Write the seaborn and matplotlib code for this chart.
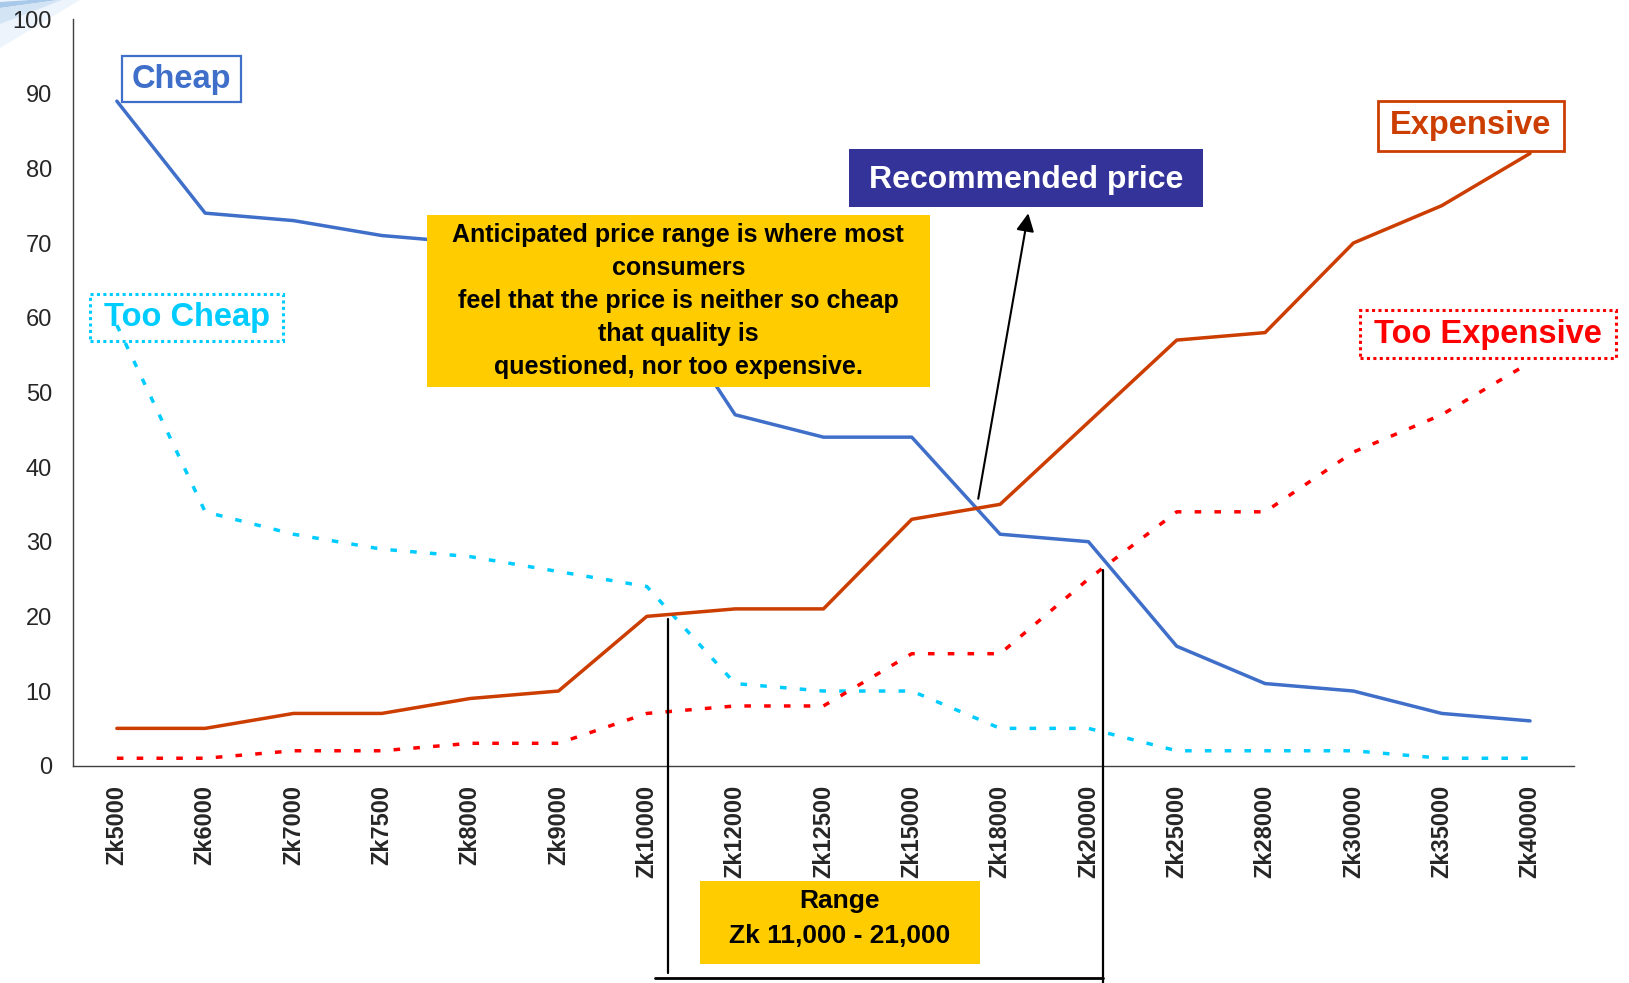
import numpy as np
import pandas as pd
import matplotlib
matplotlib.use("Agg")
import matplotlib.pyplot as plt
from matplotlib.patches import Rectangle, Polygon
from matplotlib.lines import Line2D
import seaborn as sns

# ---- survey data (share of respondents, %) ----
categories = ["Zk5000", "Zk6000", "Zk7000", "Zk7500", "Zk8000", "Zk9000", "Zk10000",
              "Zk12000", "Zk12500", "Zk15000", "Zk18000", "Zk20000", "Zk25000",
              "Zk28000", "Zk30000", "Zk35000", "Zk40000"]
cheap = [89, 74, 73, 71, 70, 68, 65, 47, 44, 44, 31, 30, 16, 11, 10, 7, 6]
too_cheap = [59, 34, 31, 29, 28, 26, 24, 11, 10, 10, 5, 5, 2, 2, 2, 1, 1]
expensive = [5, 5, 7, 7, 9, 10, 20, 21, 21, 33, 35, 46, 57, 58, 70, 75, 82]
too_expensive = [1, 1, 2, 2, 3, 3, 7, 8, 8, 15, 15, 25, 34, 34, 42, 47, 54]
y_ticks = [0, 10, 20, 30, 40, 50, 60, 70, 80, 90, 100]

series_names = ["Cheap", "Too Cheap", "Expensive", "Too Expensive"]
note_text = ("Anticipated price range is where most\nconsumers\n"
             "feel that the price is neither so cheap\nthat quality is\n"
             "questioned, nor too expensive.")
range_text = "Range\nZk 11,000 - 21,000"
recommended_text = "Recommended price"

# range bounds as marked on the axis (category position, share %)
range_low = (6.24, 19.6)
range_high = (11.17, 26.2)

colors = {"Cheap": "#3F6FC9", "Too Cheap": "#00CCFF",
          "Expensive": "#CC3D00", "Too Expensive": "#FF0000"}
dashes = {"Cheap": "", "Too Cheap": (1.9, 3.8),
          "Expensive": "", "Too Expensive": (1.9, 3.8)}

pos = np.arange(len(categories))
df = pd.concat([
    pd.DataFrame({"pos": pos, "price": categories, "share": vals, "series": name})
    for name, vals in zip(series_names, [cheap, too_cheap, expensive, too_expensive])
], ignore_index=True)

sns.set_style("white")
plt.rcParams["font.family"] = ["Liberation Sans", "DejaVu Sans"]

W, H = 1629, 983
fig = plt.figure(figsize=(W / 100, H / 100), dpi=100)
ax = fig.add_axes([72.7 / W, 1 - 765.7 / H, (1574.2 - 72.7) / W, (765.7 - 19) / H])


def fx(px):
    return px / W


def fy(py):
    return 1 - py / H


sns.lineplot(data=df, x="pos", y="share", hue="series", style="series",
             palette=colors, dashes=dashes, hue_order=series_names,
             style_order=series_names, linewidth=2.5, sort=False,
             legend=False, ax=ax, zorder=2)

ax.set_xlim(-0.5, len(categories) - 0.5)
ax.set_ylim(0, 100)
ax.set_yticks(y_ticks)
ax.set_yticklabels([str(v) for v in y_ticks], fontsize=17)
ax.set_xticks(pos)
ax.set_xticklabels(categories, rotation=90, fontsize=17, fontweight="bold", va="top")
ax.set_xticks(np.arange(-0.5, len(categories), 1.0), minor=True)
ax.tick_params(axis="x", which="major", length=0, pad=14)
ax.tick_params(axis="x", which="minor", direction="out", length=6, width=1, color="#404040")
ax.tick_params(axis="y", direction="out", length=6.5, width=1, color="#404040", pad=8.5)
ax.set_xlabel("")
ax.set_ylabel("")
for side in ["top", "right"]:
    ax.spines[side].set_visible(False)
for side in ["left", "bottom"]:
    ax.spines[side].set_color("#404040")
    ax.spines[side].set_linewidth(1)


def crossing(a, b):
    """First point where series a and b cross, in data coordinates."""
    a = np.asarray(a, float)
    b = np.asarray(b, float)
    d = a - b
    for i in range(len(d) - 1):
        if d[i] == 0:
            return float(i), a[i]
        if d[i] * d[i + 1] < 0:
            t = d[i] / (d[i] - d[i + 1])
            return i + t, a[i] + t * (a[i + 1] - a[i])
    return None


def data_to_fig(x, y):
    disp = ax.transData.transform((x, y))
    return fig.transFigure.inverted().transform(disp)


# recommended price sits where "Cheap" meets "Expensive"
rec_x, rec_y = crossing(cheap, expensive)

lx, ly = data_to_fig(*range_low)
hx, hy = data_to_fig(*range_high)
fig.add_artist(Line2D([lx, lx], [ly, fy(972.7)], color="black", lw=1.6, zorder=6))
fig.add_artist(Line2D([hx, hx], [hy, 0.0], color="black", lw=1.6, zorder=6))
fig.add_artist(Line2D([lx - fx(12.6), hx], [fy(977.7), fy(977.7)], color="black",
                      lw=2.0, zorder=6))


def box(x0, y0, x1, y1, fc="white", ec="none", lw=0, ls="-", z=5):
    r = Rectangle((fx(x0), fy(y1)), (x1 - x0) / W, (y1 - y0) / H,
                  transform=fig.transFigure, facecolor=fc, edgecolor=ec,
                  linewidth=lw, linestyle=ls, zorder=z)
    fig.add_artist(r)
    return ((x0 + x1) / 2, (y0 + y1) / 2)


# series labels
cx, cy = box(121.7, 56, 240.7, 101.7, fc="white", ec=colors["Cheap"], lw=1.6)
fig.text(fx(cx), fy(cy + 1), "Cheap", color=colors["Cheap"], fontsize=23.5,
         fontweight="bold", ha="center", va="center", zorder=7)

cx, cy = box(90, 294.3, 283.3, 341, fc="none", ec=colors["Too Cheap"], lw=2.2,
             ls=(0, (1, 1.1)))
fig.text(fx(cx), fy(cy), "Too Cheap", color=colors["Too Cheap"], fontsize=23.5,
         fontweight="bold", ha="center", va="center", zorder=7)

cx, cy = box(1378, 100.7, 1564, 151, fc="white", ec=colors["Expensive"], lw=2.0)
fig.text(fx(cx), fy(cy), "Expensive", color=colors["Expensive"], fontsize=23.5,
         fontweight="bold", ha="center", va="center", zorder=7)

cx, cy = box(1359.8, 310, 1616, 358, fc="white", ec=colors["Too Expensive"], lw=2.2,
             ls=(0, (1, 1.1)))
fig.text(fx(cx), fy(cy), "Too Expensive", color=colors["Too Expensive"], fontsize=23.5,
         fontweight="bold", ha="center", va="center", zorder=7)

# explanatory call-outs
cx, cy = box(427, 215, 929.6, 387.3, fc="#FFCC00")
fig.text(fx(cx), fy(cy), note_text, color="black", fontsize=18, fontweight="bold",
         ha="center", va="center", linespacing=1.47, zorder=7)

cx, cy = box(849, 149, 1203, 206.7, fc="#333399")
fig.text(fx(cx), fy(cy + 2), recommended_text, color="white", fontsize=23,
         fontweight="bold", ha="center", va="center", zorder=7)

cx, cy = box(699.8, 881, 979.8, 964.3, fc="#FFCC00")
fig.text(fx(cx), fy(cy - 4), range_text, color="black", fontsize=19,
         fontweight="bold", ha="center", va="center", linespacing=1.55, zorder=7)

ax.annotate("", xy=(fx(1028.3), fy(213.3)), xycoords="figure fraction",
            xytext=(rec_x, rec_y), textcoords="data",
            arrowprops=dict(arrowstyle="-|>", color="black", lw=1.5,
                            shrinkA=7, shrinkB=0, mutation_scale=27),
            annotation_clip=False, zorder=8)

# small decorative corner swoosh
fig.add_artist(Polygon([(0, 1), (fx(80), 1), (0, fy(48))], closed=True,
                       transform=fig.transFigure, facecolor="#EDF4FB",
                       edgecolor="none", zorder=0))
fig.add_artist(Polygon([(0, fy(8)), (fx(58), 1), (fx(30), 1), (0, fy(2))], closed=True,
                       transform=fig.transFigure, facecolor="#A9C9EA",
                       edgecolor="none", zorder=0))
fig.add_artist(Polygon([(0, fy(24)), (fx(62), 1), (fx(58), 1), (0, fy(8))], closed=True,
                       transform=fig.transFigure, facecolor="#D3E4F5",
                       edgecolor="none", zorder=0))

fig.savefig("out.png", dpi=100)
